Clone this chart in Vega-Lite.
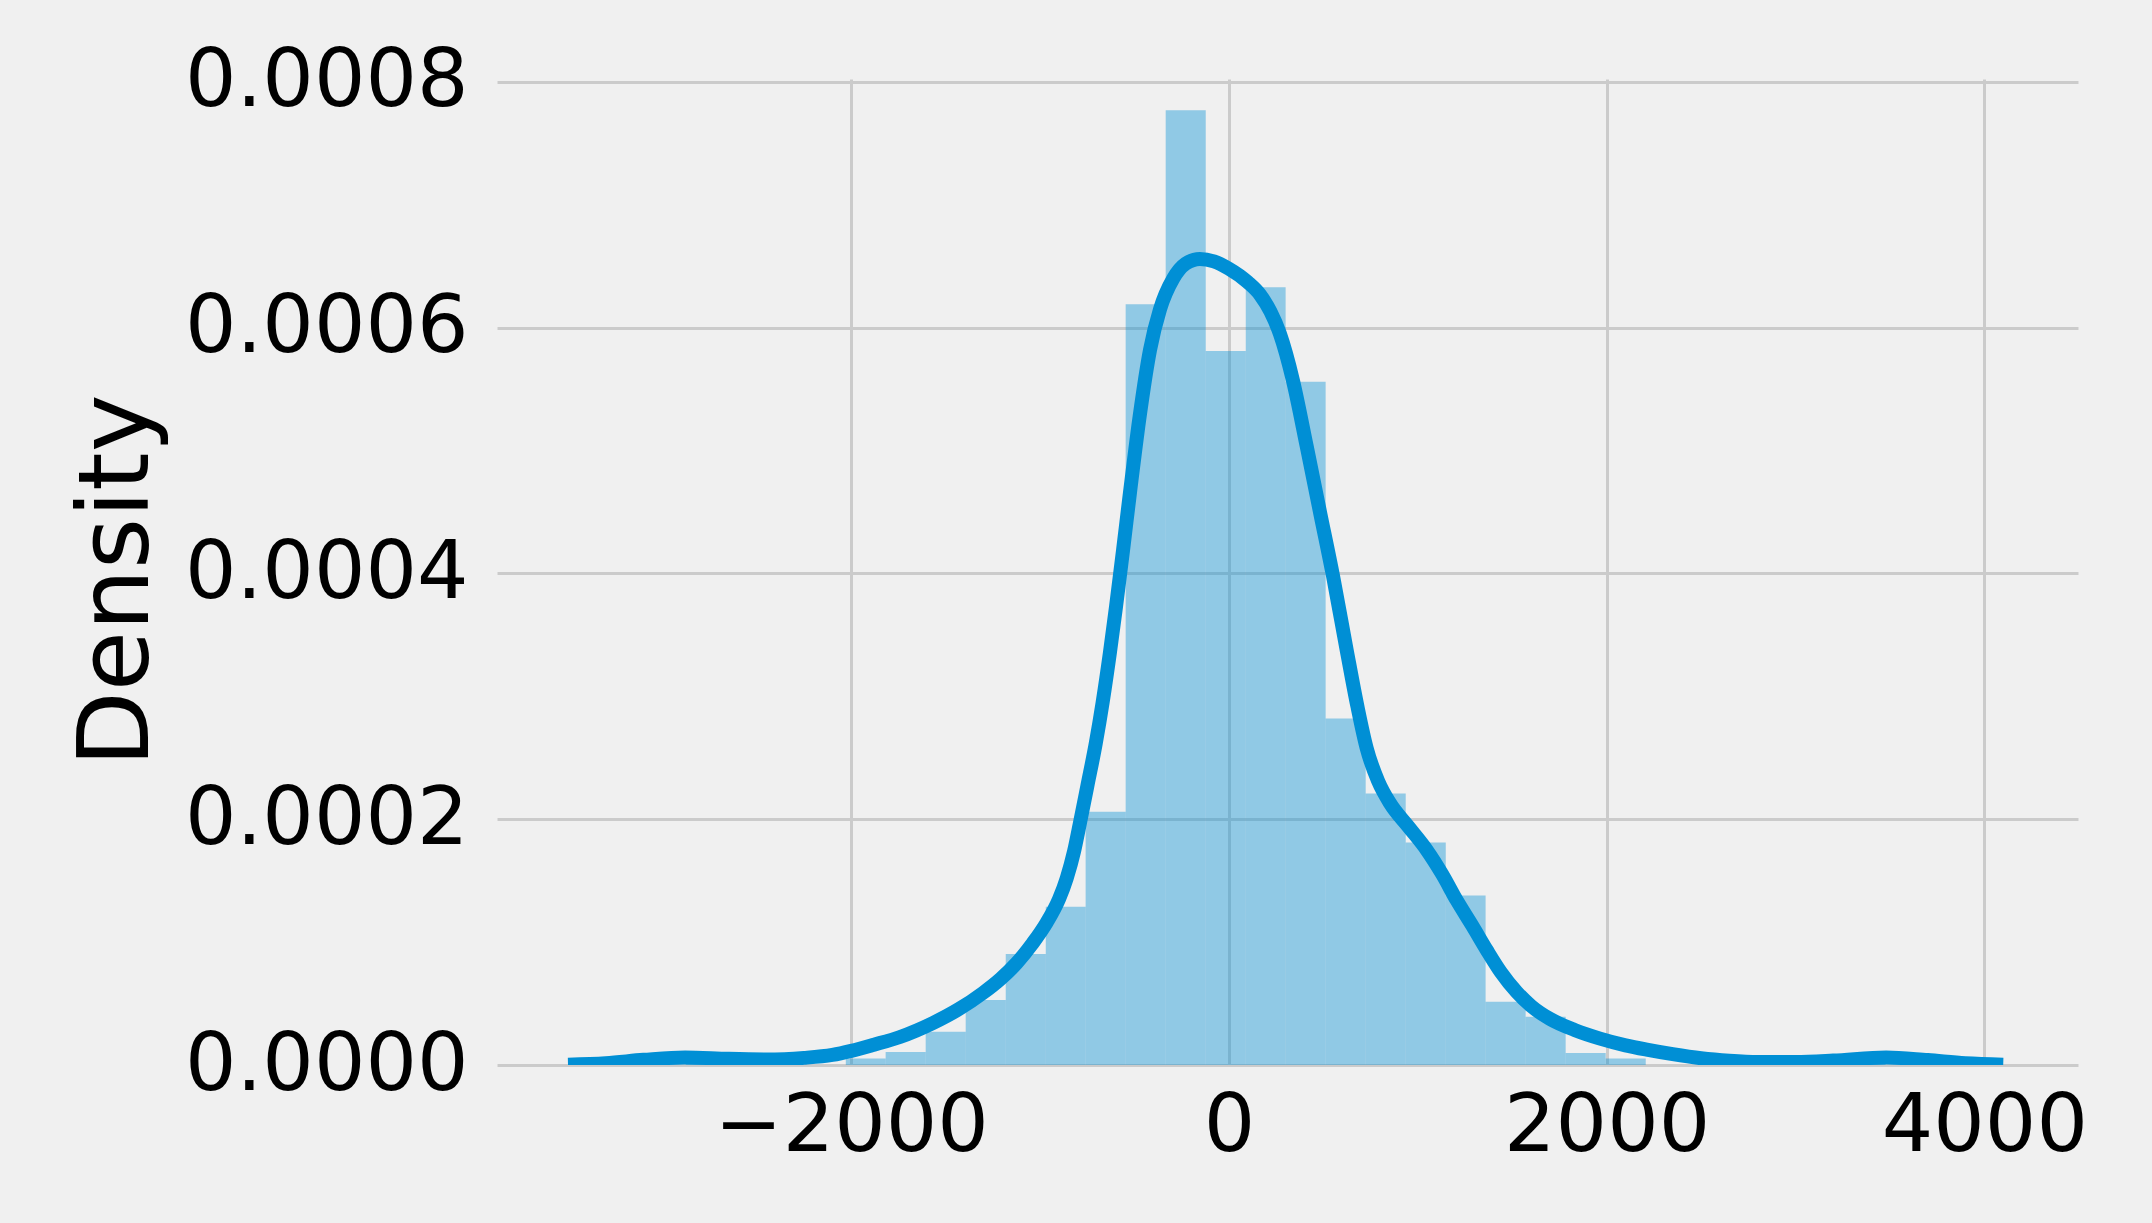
{
  "$schema": "https://vega.github.io/schema/vega-lite/v6.json",
  "width": 1581,
  "height": 986,
  "autosize": {"type": "none"},
  "padding": {"left": 497, "top": 79, "right": 74, "bottom": 158},
  "background": "#f0f0f0",
  "config": {
    "view": {"stroke": null},
    "axis": {
      "domain": false,
      "ticks": false,
      "tickSize": 0,
      "grid": true,
      "gridColor": "#cbcbcb",
      "gridWidth": 3,
      "labelFont": "DejaVu Sans",
      "labelFontSize": 81,
      "labelColor": "#000000",
      "labelLimit": 1000,
      "titleFont": "DejaVu Sans",
      "titleFontSize": 98,
      "titleFontWeight": "normal",
      "titleColor": "#000000",
      "titleLimit": 2000
    }
  },
  "layer": [
    {
      "data": {
        "values": [
          {"start": -2877, "end": -2665, "density": 0.0000053},
          {"start": -2665, "end": -2453, "density": 0},
          {"start": -2453, "end": -2241, "density": 0},
          {"start": -2241, "end": -2029, "density": 0},
          {"start": -2029, "end": -1818, "density": 0.0000053},
          {"start": -1818, "end": -1606, "density": 0.0000106},
          {"start": -1606, "end": -1394, "density": 0.000027},
          {"start": -1394, "end": -1182, "density": 0.0000529},
          {"start": -1182, "end": -970, "density": 0.0000903},
          {"start": -970, "end": -759, "density": 0.0001288},
          {"start": -759, "end": -547, "density": 0.000206},
          {"start": -547, "end": -335, "density": 0.000619},
          {"start": -335, "end": -123, "density": 0.000777},
          {"start": -123, "end": 89, "density": 0.000581},
          {"start": 89, "end": 300, "density": 0.000633},
          {"start": 300, "end": 512, "density": 0.000556},
          {"start": 512, "end": 724, "density": 0.000282},
          {"start": 724, "end": 936, "density": 0.000221},
          {"start": 936, "end": 1148, "density": 0.000181},
          {"start": 1148, "end": 1359, "density": 0.000138},
          {"start": 1359, "end": 1571, "density": 0.0000515},
          {"start": 1571, "end": 1783, "density": 0.0000393},
          {"start": 1783, "end": 1995, "density": 0.0000098},
          {"start": 1995, "end": 2207, "density": 0.0000053},
          {"start": 2207, "end": 2418, "density": 0},
          {"start": 2418, "end": 2630, "density": 0},
          {"start": 2630, "end": 2842, "density": 0},
          {"start": 2842, "end": 3054, "density": 0},
          {"start": 3054, "end": 3266, "density": 0},
          {"start": 3266, "end": 3477, "density": 0.0000053}
        ]
      },
      "mark": {"type": "rect", "fill": "#008fd5", "fillOpacity": 0.4, "strokeWidth": 0},
      "encoding": {
        "x": {
          "field": "start",
          "type": "quantitative",
          "scale": {"domain": [-3876, 4496], "nice": false, "zero": false},
          "axis": {"values": [-2000, 0, 2000, 4000], "format": "d", "title": null, "labelPadding": 21}
        },
        "x2": {"field": "end"},
        "y": {
          "field": "density",
          "type": "quantitative",
          "scale": {"domain": [0, 0.0008024], "nice": false},
          "axis": {
            "values": [0, 0.0002, 0.0004, 0.0006, 0.0008],
            "format": ".4f",
            "title": "Density",
            "labelPadding": 29,
            "titleX": -350,
            "titleY": 501,
            "titleAlign": "center",
            "titleBaseline": "alphabetic",
            "titleAngle": 270
          }
        },
        "y2": {"datum": 0}
      }
    },
    {
      "data": {
        "values": [
          {"x": -3500, "d": 0.0000003},
          {"x": -3300, "d": 0.0000015},
          {"x": -3100, "d": 0.0000042},
          {"x": -2880, "d": 0.0000062},
          {"x": -2650, "d": 0.000005},
          {"x": -2450, "d": 0.0000045},
          {"x": -2250, "d": 0.0000058},
          {"x": -2100, "d": 0.0000082},
          {"x": -2000, "d": 0.0000115},
          {"x": -1880, "d": 0.0000165},
          {"x": -1742, "d": 0.0000228},
          {"x": -1567, "d": 0.0000342},
          {"x": -1430, "d": 0.0000455},
          {"x": -1303, "d": 0.0000586},
          {"x": -1210, "d": 0.000070},
          {"x": -1124, "d": 0.000083},
          {"x": -1040, "d": 0.000099},
          {"x": -965, "d": 0.000116},
          {"x": -900, "d": 0.000135},
          {"x": -859, "d": 0.000152},
          {"x": -820, "d": 0.000174},
          {"x": -789, "d": 0.000197},
          {"x": -750, "d": 0.000227},
          {"x": -705, "d": 0.000262},
          {"x": -669, "d": 0.000295},
          {"x": -630, "d": 0.000336},
          {"x": -598, "d": 0.000373},
          {"x": -560, "d": 0.00042},
          {"x": -524, "d": 0.000466},
          {"x": -471, "d": 0.00053},
          {"x": -418, "d": 0.000582},
          {"x": -365, "d": 0.000615},
          {"x": -295, "d": 0.00064},
          {"x": -230, "d": 0.000652},
          {"x": -154, "d": 0.000656},
          {"x": -80, "d": 0.000654},
          {"x": 0, "d": 0.000648},
          {"x": 100, "d": 0.000637},
          {"x": 164, "d": 0.000627},
          {"x": 220, "d": 0.000613},
          {"x": 270, "d": 0.000595},
          {"x": 339, "d": 0.000557},
          {"x": 411, "d": 0.000504},
          {"x": 482, "d": 0.00045},
          {"x": 551, "d": 0.000398},
          {"x": 623, "d": 0.000338},
          {"x": 680, "d": 0.000292},
          {"x": 729, "d": 0.000258},
          {"x": 790, "d": 0.000231},
          {"x": 853, "d": 0.000213},
          {"x": 950, "d": 0.000194},
          {"x": 1047, "d": 0.000175},
          {"x": 1130, "d": 0.000155},
          {"x": 1206, "d": 0.000134},
          {"x": 1290, "d": 0.000113},
          {"x": 1365, "d": 0.0000936},
          {"x": 1440, "d": 0.0000755},
          {"x": 1523, "d": 0.0000595},
          {"x": 1600, "d": 0.000048},
          {"x": 1700, "d": 0.0000375},
          {"x": 1830, "d": 0.0000285},
          {"x": 1965, "d": 0.0000215},
          {"x": 2100, "d": 0.000016},
          {"x": 2212, "d": 0.0000125},
          {"x": 2350, "d": 0.0000088},
          {"x": 2500, "d": 0.0000055},
          {"x": 2650, "d": 0.0000035},
          {"x": 2800, "d": 0.0000025},
          {"x": 3000, "d": 0.0000025},
          {"x": 3200, "d": 0.0000036},
          {"x": 3480, "d": 0.0000062},
          {"x": 3700, "d": 0.000004},
          {"x": 3900, "d": 0.0000015},
          {"x": 4100, "d": 0.0000003}
        ]
      },
      "mark": {"type": "line", "color": "#008fd5", "strokeWidth": 14, "interpolate": "monotone", "strokeCap": "butt", "strokeJoin": "round", "clip": true},
      "encoding": {
        "x": {"field": "x", "type": "quantitative"},
        "y": {"field": "d", "type": "quantitative"}
      }
    }
  ]
}
